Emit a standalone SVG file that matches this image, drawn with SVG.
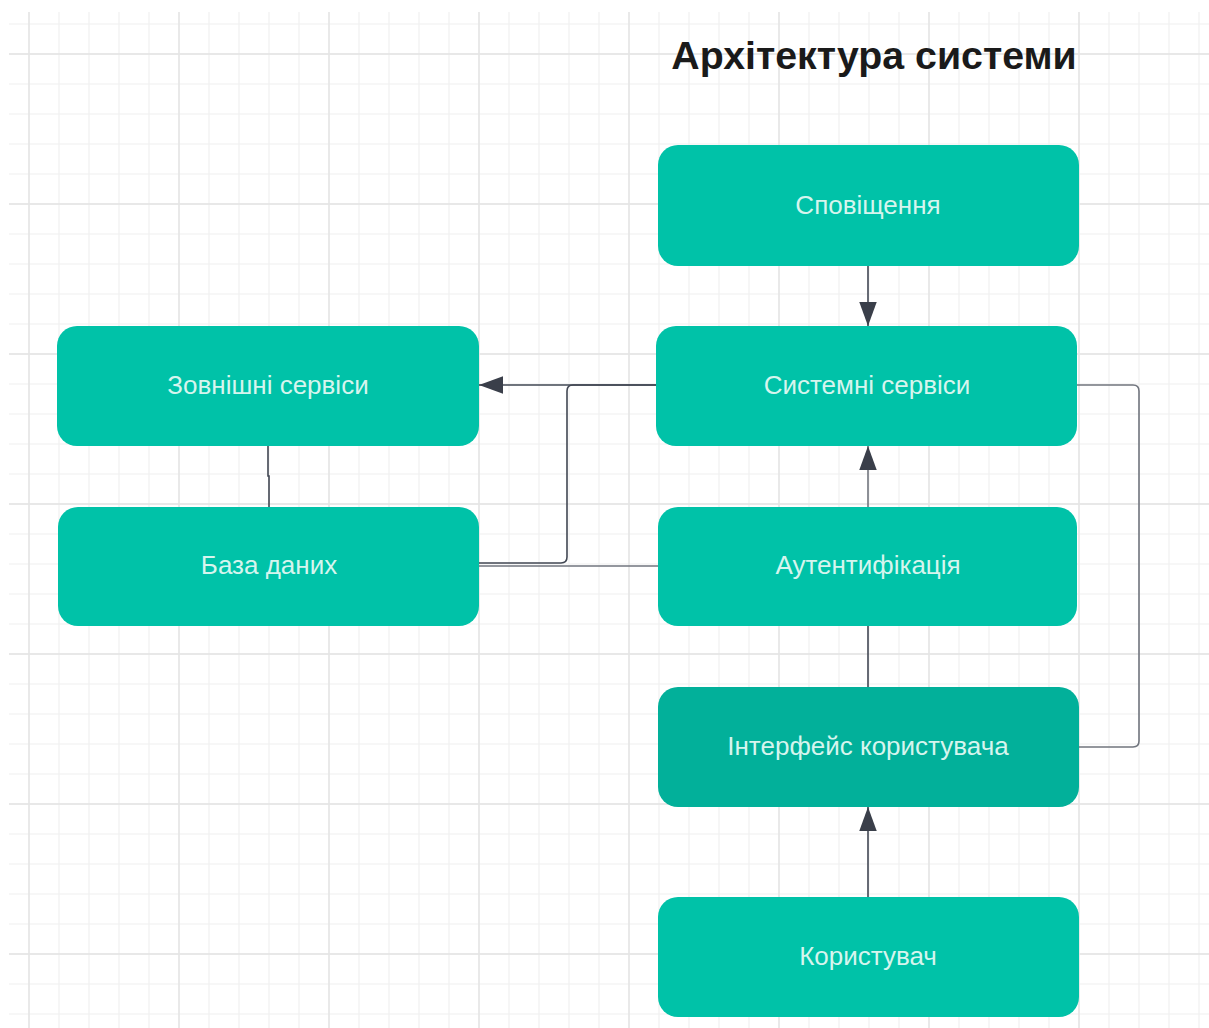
<svg xmlns="http://www.w3.org/2000/svg" width="1209" height="1028" viewBox="0 0 1209 1028">
<style>
.node{fill:#00c2a8}
.node-dark{fill:#02b09a}
.label{font-family:"Liberation Sans",Arial,sans-serif;font-size:26px;fill:#d6f5ee;text-anchor:middle}
.title{font-family:"Liberation Sans",Arial,sans-serif;font-size:39.3px;font-weight:bold;fill:#1a1a1a;text-anchor:middle}
.conn{fill:none;stroke:#414753;stroke-width:1.6}
.conn-light{fill:none;stroke:#71757e;stroke-width:1.6}
</style>
<defs>
<pattern id="minor" patternUnits="userSpaceOnUse" x="14" y="9" width="30" height="30">
<path d="M15,0V30M0,15H30" stroke="#f0f0f0" stroke-width="1.2" fill="none"/>
</pattern>
<pattern id="major" patternUnits="userSpaceOnUse" x="-46" y="-21" width="150" height="150">
<path d="M75,0V150M0,75H150" stroke="#e4e4e4" stroke-width="1.4" fill="none"/>
</pattern>
<marker id="arrow" markerUnits="userSpaceOnUse" markerWidth="24" markerHeight="18" refX="22" refY="8" orient="auto" viewBox="0 0 22 16">
<path d="M0,0L22,8L0,16Z" fill="#3a3f4a"/>
</marker>
</defs>
<rect x="0" y="0" width="1209" height="1028" fill="#ffffff"/>
<rect x="9" y="12" width="1200" height="1016" fill="url(#minor)"/>
<rect x="9" y="12" width="1200" height="1016" fill="url(#major)"/>

<text class="title" x="874" y="69">Архітектура системи</text>

<g id="connectors">
<path class="conn" d="M868,266V326" marker-end="url(#arrow)"/>
<path class="conn" d="M656,385H479" marker-end="url(#arrow)"/>
<path class="conn" d="M268,446V476H269V507"/>
<path class="conn" d="M479,563H561Q567,563 567,557V391Q567,385 573,385H656"/>
<path class="conn-light" d="M479,566H658"/>
<path class="conn-light" d="M868,507V446" marker-end="url(#arrow)"/>
<path class="conn" d="M868,626V687"/>
<path class="conn" d="M868,897V807" marker-end="url(#arrow)"/>
<path class="conn-light" d="M1077,385H1133Q1139,385 1139,391V741Q1139,747 1133,747H1079"/>
</g>

<g id="node-notifications">
<rect class="node" x="658" y="145" width="421" height="121" rx="20"/>
<text class="label" x="868" y="214">Сповіщення</text>
</g>
<g id="node-system-services">
<rect class="node" x="656" y="326" width="421" height="120" rx="20"/>
<text class="label" x="867" y="394">Системні сервіси</text>
</g>
<g id="node-external-services">
<rect class="node" x="57" y="326" width="422" height="120" rx="20"/>
<text class="label" x="268" y="394">Зовнішні сервіси</text>
</g>
<g id="node-database">
<rect class="node" x="58" y="507" width="421" height="119" rx="20"/>
<text class="label" x="269" y="574">База даних</text>
</g>
<g id="node-auth">
<rect class="node" x="658" y="507" width="419" height="119" rx="20"/>
<text class="label" x="868" y="574">Аутентифікація</text>
</g>
<g id="node-ui">
<rect class="node-dark" x="658" y="687" width="421" height="120" rx="20"/>
<text class="label" x="868" y="755">Інтерфейс користувача</text>
</g>
<g id="node-user">
<rect class="node" x="658" y="897" width="421" height="120" rx="20"/>
<text class="label" x="868" y="965">Користувач</text>
</g>
</svg>
